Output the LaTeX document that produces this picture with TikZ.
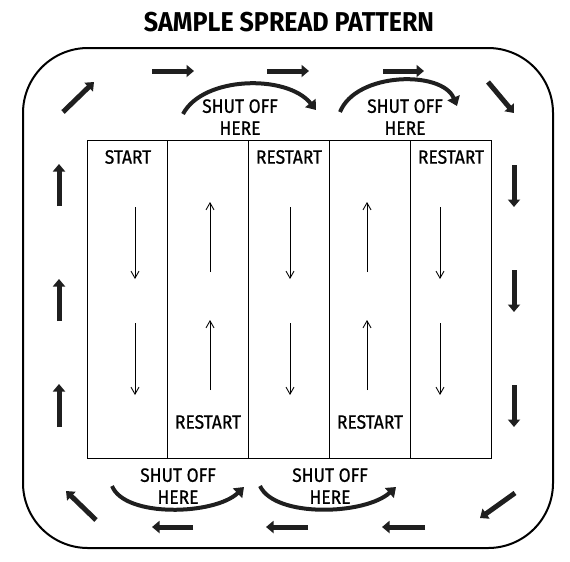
\documentclass[tikz,border=0pt]{standalone}
\usepackage{fontspec}
\usetikzlibrary{arrows.meta}
\newfontfamily\spreadfont[FakeStretch=0.9,FakeBold=0.8]{Fira Sans}
\newfontfamily\titlefont[FakeStretch=0.92]{Fira Sans}

\tikzset{
    lbl/.style={font=\spreadfont\fontsize{11}{12.5}\selectfont, align=center, inner sep=0pt},
    bigarrow/.style={line width=0.1cm, draw=black!88, -{Triangle[length=0.15cm,width=0.24cm]}},
    thinarrow/.style={line width=0.5pt, -{Straight Barb[length=0.14cm,width=0.16cm]}},
    curvearrow/.style={line width=0.08cm, draw=black!88, -{Triangle[length=0.18cm,width=0.26cm]}},
}

\begin{document}
\begin{tikzpicture}[x=0.02cm,y=-0.02cm]
            \useasboundingbox (0,0) rectangle (570,561);

            \node[font=\titlefont\bfseries\fontsize{15.5}{18}\selectfont, inner sep=0pt] (title) at (289,22) {SAMPLE SPREAD PATTERN};

            % field border
            \draw[line width=0.04cm, rounded corners=1.3cm] (23,48) rectangle (553,548);

            % strips
            \draw[line width=0.5pt] (87,140) rectangle (491,458);
            \foreach \x in {167,248,329,410}
                \draw[line width=0.5pt] (\x,140) -- (\x,458);

            \node[lbl] (start) at (128,157) {START};
            \node[lbl] (restartA) at (289,157) {RESTART};
            \node[lbl] (restartB) at (451,157) {RESTART};
            \node[lbl] (restartC) at (208,422) {RESTART};
            \node[lbl] (restartD) at (370,422) {RESTART};

            % passes inside the strips
            \foreach \i/\x/\a/\b in {1/135/207/279, 2/135/323/395, 3/290/207/279, 4/290/323/395,
                                     5/440/207/279, 6/440/323/395, 7/210/272/202, 8/210/390/320,
                                     9/367/272/202, 10/367/390/320}{
                \coordinate (p\i) at (\x,\a);
                \coordinate (q\i) at (\x,\b);
                \draw[thinarrow] (p\i) -- (q\i);
            }

            % headland arrows
            \foreach \i/\xa/\ya/\xb/\yb in {1/152/71/194/71, 2/267/71/309/71, 3/383/71/424/71,
                                  4/488/82/514/113, 5/514/165/514/207, 6/514/270/514/312,
                                  7/514/385/514/427, 8/515/493/480/518, 9/425/527/382/527,
                                  10/308/527/266/527, 11/193/527/152/527, 12/96/520/66/491,
                                  13/59/427/59/384, 14/59/321/59/279, 15/59/206/59/164,
                                  16/63/112/94/82}{
                \coordinate (s\i) at (\xa,\ya);
                \coordinate (e\i) at (\xb,\yb);
                \draw[bigarrow] (s\i) -- (e\i);
            }

            % turns
            \coordinate (tA) at (183,114);
            \coordinate (tB) at (316,110);
            \coordinate (tC) at (340,112);
            \coordinate (tD) at (457,106);
            \draw[curvearrow] (tA) .. controls (203,76) and (287,74) .. (tB);
            \draw[curvearrow] (tC) .. controls (356,72) and (442,70) .. (tD);
            \node[lbl] (offA) at (240,117) {SHUT OFF\\HERE};
            \node[lbl] (offB) at (405,117) {SHUT OFF\\HERE};

            \coordinate (bA) at (112,486);
            \coordinate (bB) at (244,487);
            \coordinate (bC) at (260,486);
            \coordinate (bD) at (396,487);
            \draw[curvearrow] (bA) .. controls (125,518) and (215,515) .. (bB);
            \draw[curvearrow] (bC) .. controls (275,518) and (365,515) .. (bD);
            \node[lbl] (offC) at (178,486) {SHUT OFF\\HERE};
            \node[lbl] (offD) at (330,486) {SHUT OFF\\HERE};
\end{tikzpicture}
\end{document}
